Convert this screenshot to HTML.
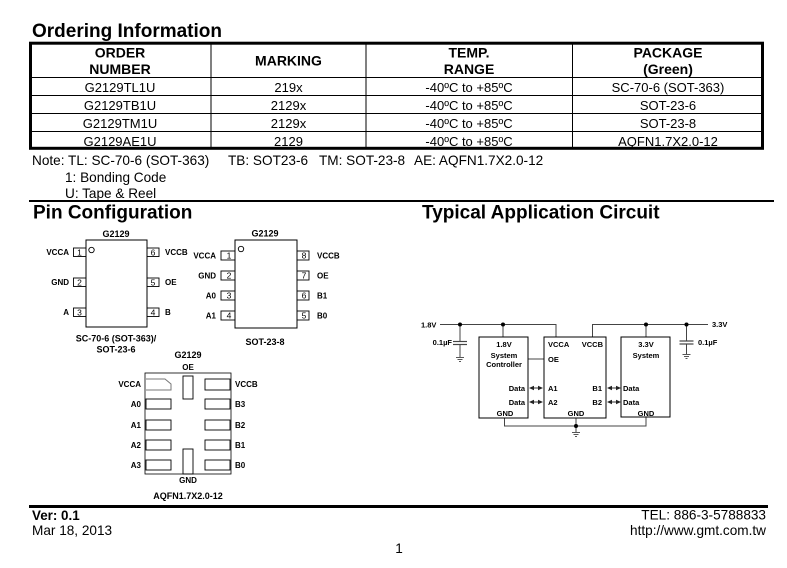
<!DOCTYPE html>
<html><head><meta charset="utf-8"><style>
html,body{margin:0;padding:0;background:#fff;}
svg{display:block;}
text{font-family:"Liberation Sans",Arial,sans-serif;fill:#000;}
.b{font-weight:bold;}
</style></head><body>
<svg width="787" height="568" viewBox="0 0 787 568" xmlns="http://www.w3.org/2000/svg">
<rect width="787" height="568" fill="#fff"/>

<!-- Ordering Information -->
<text x="32" y="37" class="b" font-size="19">Ordering Information</text>
<rect x="30.5" y="43.2" width="732" height="105.1" fill="none" stroke="#000" stroke-width="3"/>
<g stroke="#000" stroke-width="1">
<line x1="32" y1="77.5" x2="761" y2="77.5"/>
<line x1="32" y1="95.5" x2="761" y2="95.5"/>
<line x1="32" y1="113.5" x2="761" y2="113.5"/>
<line x1="32" y1="131.5" x2="761" y2="131.5"/>
<line x1="211" y1="44" x2="211" y2="147"/>
<line x1="366" y1="44" x2="366" y2="147"/>
<line x1="572.5" y1="44" x2="572.5" y2="147"/>
</g>
<g font-size="14" class="b" text-anchor="middle">
<text x="120" y="57.3" class="b">ORDER</text>
<text x="120" y="74" class="b">NUMBER</text>
<text x="288.5" y="65.7" class="b">MARKING</text>
<text x="469" y="57.3" class="b">TEMP.</text>
<text x="469" y="74" class="b">RANGE</text>
<text x="668" y="57.3" class="b">PACKAGE</text>
<text x="668" y="74" class="b">(Green)</text>
</g>
<g font-size="13" text-anchor="middle">
<text x="120" y="92">G2129TL1U</text>
<text x="120" y="110">G2129TB1U</text>
<text x="120" y="128">G2129TM1U</text>
<text x="120" y="146">G2129AE1U</text>
<text x="288.5" y="92">219x</text>
<text x="288.5" y="110">2129x</text>
<text x="288.5" y="128">2129x</text>
<text x="288.5" y="146">2129</text>
<text x="469" y="92">-40ºC to +85ºC</text>
<text x="469" y="110">-40ºC to +85ºC</text>
<text x="469" y="128">-40ºC to +85ºC</text>
<text x="469" y="146">-40ºC to +85ºC</text>
<text x="668" y="92">SC-70-6 (SOT-363)</text>
<text x="668" y="110">SOT-23-6</text>
<text x="668" y="128">SOT-23-8</text>
<text x="668" y="146">AQFN1.7X2.0-12</text>
</g>
<g font-size="13.6">
<text x="32" y="165">Note: TL: SC-70-6 (SOT-363)</text>
<text x="228" y="165">TB: SOT23-6</text>
<text x="319" y="165">TM: SOT-23-8</text>
<text x="414" y="165">AE: AQFN1.7X2.0-12</text>
<text x="65" y="182">1: Bonding Code</text>
<text x="65" y="198">U: Tape &amp; Reel</text>
</g>
<rect x="29" y="200" width="745" height="2" fill="#000"/>

<text x="33" y="218.3" class="b" font-size="19">Pin Configuration</text>
<text x="422" y="218.3" class="b" font-size="19">Typical Application Circuit</text>

<!-- SC-70-6 -->
<g font-size="8">
<text x="116" y="237" class="b" font-size="9" text-anchor="middle">G2129</text>
<rect x="86" y="240" width="61" height="87" fill="none" stroke="#000" stroke-width="1"/>
<circle cx="91.5" cy="250" r="2.7" fill="none" stroke="#000" stroke-width="0.9"/>
<g fill="none" stroke="#000" stroke-width="0.9">
<rect x="73.5" y="248" width="12.5" height="8.5"/>
<rect x="73.5" y="278" width="12.5" height="8.5"/>
<rect x="73.5" y="308" width="12.5" height="8.5"/>
<rect x="147" y="248" width="12" height="8.5"/>
<rect x="147" y="278" width="12" height="8.5"/>
<rect x="147" y="308" width="12" height="8.5"/>
</g>
<g text-anchor="middle" font-size="8.5">
<text x="79.5" y="255.5">1</text><text x="79.5" y="285.5">2</text><text x="79.5" y="315.5">3</text>
<text x="153" y="255.5">6</text><text x="153" y="285.5">5</text><text x="153" y="315.5">4</text>
</g>
<g class="b" text-anchor="end">
<text x="69" y="255" class="b">VCCA</text><text x="69" y="285" class="b">GND</text><text x="69" y="315" class="b">A</text>
</g>
<g class="b">
<text x="165" y="255" class="b">VCCB</text><text x="165" y="285" class="b">OE</text><text x="165" y="315" class="b">B</text>
</g>
<text x="116" y="341.5" class="b" font-size="9" text-anchor="middle">SC-70-6 (SOT-363)/</text>
<text x="116" y="352.5" class="b" font-size="9" text-anchor="middle">SOT-23-6</text>
</g>

<!-- SOT-23-8 -->
<g font-size="8">
<text x="265" y="236.5" class="b" font-size="9" text-anchor="middle">G2129</text>
<rect x="235" y="240" width="62" height="88" fill="none" stroke="#000" stroke-width="1"/>
<circle cx="241" cy="249" r="2.7" fill="none" stroke="#000" stroke-width="0.9"/>
<g fill="none" stroke="#000" stroke-width="0.9">
<rect x="221" y="251" width="14" height="9"/>
<rect x="221" y="271" width="14" height="9"/>
<rect x="221" y="291" width="14" height="9"/>
<rect x="221" y="311" width="14" height="9"/>
<rect x="297" y="251" width="12" height="9"/>
<rect x="297" y="271" width="12" height="9"/>
<rect x="297" y="291" width="12" height="9"/>
<rect x="297" y="311" width="12" height="9"/>
</g>
<g text-anchor="middle" font-size="8.5">
<text x="229" y="258.5">1</text><text x="229" y="278.5">2</text><text x="229" y="298.5">3</text><text x="229" y="318.5">4</text>
<text x="304" y="258.5">8</text><text x="304" y="278.5">7</text><text x="304" y="298.5">6</text><text x="304" y="318.5">5</text>
</g>
<g text-anchor="end">
<text x="216" y="258.5" class="b">VCCA</text><text x="216" y="278.5" class="b">GND</text><text x="216" y="298.5" class="b">A0</text><text x="216" y="318.5" class="b">A1</text>
</g>
<text x="317" y="258.5" class="b">VCCB</text><text x="317" y="278.5" class="b">OE</text><text x="317" y="298.5" class="b">B1</text><text x="317" y="318.5" class="b">B0</text>
<text x="265" y="345" class="b" font-size="9" text-anchor="middle">SOT-23-8</text>
</g>

<!-- AQFN -->
<g font-size="8">
<text x="188" y="358" class="b" font-size="9" text-anchor="middle">G2129</text>
<text x="188" y="370" class="b" text-anchor="middle">OE</text>
<rect x="145" y="373" width="86" height="101" fill="none" stroke="#000" stroke-width="0.8"/>
<g fill="none" stroke="#000" stroke-width="0.9">
<rect x="146" y="399" width="25" height="10"/>
<rect x="146" y="420" width="25" height="10"/>
<rect x="146" y="440" width="25" height="10"/>
<rect x="146" y="460" width="25" height="10"/>
<rect x="205" y="379" width="25" height="11"/>
<rect x="205" y="399" width="25" height="10"/>
<rect x="205" y="420" width="25" height="10"/>
<rect x="205" y="440" width="25" height="10"/>
<rect x="205" y="460" width="25" height="10"/>
<rect x="183" y="376" width="10" height="23"/>
<rect x="183" y="449" width="10" height="25"/>
</g>
<polyline points="146,379 165,379 171,384 171,390 146,390" fill="none" stroke="#777" stroke-width="1"/>
<g text-anchor="end">
<text x="141" y="387" class="b">VCCA</text><text x="141" y="407" class="b">A0</text><text x="141" y="428" class="b">A1</text><text x="141" y="448" class="b">A2</text><text x="141" y="468" class="b">A3</text>
</g>
<text x="235" y="387" class="b">VCCB</text><text x="235" y="407" class="b">B3</text><text x="235" y="428" class="b">B2</text><text x="235" y="448" class="b">B1</text><text x="235" y="468" class="b">B0</text>
<text x="188" y="483" class="b" text-anchor="middle">GND</text>
<text x="188" y="499" class="b" font-size="9" text-anchor="middle">AQFN1.7X2.0-12</text>
</g>

<!-- Application circuit -->
<g stroke="#444" stroke-width="1" fill="none">
<polyline points="440,324.5 556,324.5 556,337"/>
<polyline points="592.5,337 592.5,324.5 708,324.5"/>
<line x1="460" y1="324.5" x2="460" y2="341.5"/>
<line x1="460" y1="344.5" x2="460" y2="357"/>
<line x1="503" y1="324.5" x2="503" y2="337"/>
<line x1="646" y1="324.5" x2="646" y2="337"/>
<line x1="686.5" y1="324.5" x2="686.5" y2="341"/>
<line x1="686.5" y1="344" x2="686.5" y2="354"/>
<line x1="528" y1="359" x2="544" y2="359"/>
<polyline points="504.5,418 504.5,426 646,426 646,417"/>
<line x1="576" y1="418" x2="576" y2="432"/>
</g>
<g stroke="#444" stroke-width="1.2">
<line x1="453" y1="341.5" x2="467" y2="341.5"/>
<line x1="453" y1="344.5" x2="467" y2="344.5"/>
<line x1="679.5" y1="341" x2="693.5" y2="341"/>
<line x1="679.5" y1="344" x2="693.5" y2="344"/>
</g>
<g stroke="#444" stroke-width="0.9">
<line x1="456" y1="357.5" x2="464" y2="357.5"/>
<line x1="457.5" y1="359.5" x2="462.5" y2="359.5"/>
<line x1="459" y1="361.5" x2="461" y2="361.5"/>
<line x1="682.5" y1="354.5" x2="690.5" y2="354.5"/>
<line x1="684" y1="356.5" x2="689" y2="356.5"/>
<line x1="685.5" y1="358.5" x2="687.5" y2="358.5"/>
<line x1="572" y1="432.5" x2="580" y2="432.5"/>
<line x1="573.5" y1="434.5" x2="578.5" y2="434.5"/>
<line x1="575" y1="436.5" x2="577" y2="436.5"/>
</g>
<g fill="#000">
<circle cx="460" cy="324.5" r="2"/>
<circle cx="503" cy="324.5" r="2"/>
<circle cx="646" cy="324.5" r="2"/>
<circle cx="686.5" cy="324.5" r="2"/>
<circle cx="576" cy="426" r="2"/>
</g>
<g fill="none" stroke="#000" stroke-width="1">
<rect x="479" y="337" width="49" height="81"/>
<rect x="544" y="337" width="62" height="81"/>
<rect x="621" y="337" width="49" height="80"/>
</g>
<!-- bidirectional arrows -->
<g stroke="#333" stroke-width="1">
<line x1="530" y1="388" x2="542" y2="388"/>
<line x1="530" y1="402" x2="542" y2="402"/>
<line x1="608" y1="388" x2="620" y2="388"/>
<line x1="608" y1="402" x2="620" y2="402"/>
</g>
<g fill="#222">
<polygon points="529,388 534,385.7 534,390.3"/><polygon points="543,388 538,385.7 538,390.3"/>
<polygon points="529,402 534,399.7 534,404.3"/><polygon points="543,402 538,399.7 538,404.3"/>
<polygon points="607,388 612,385.7 612,390.3"/><polygon points="621,388 616,385.7 616,390.3"/>
<polygon points="607,402 612,399.7 612,404.3"/><polygon points="621,402 616,399.7 616,404.3"/>
</g>
<g font-size="7.5" class="b">
<text x="421" y="327.5" class="b">1.8V</text>
<text x="452" y="345" class="b" text-anchor="end">0.1µF</text>
<text x="712" y="327" class="b">3.3V</text>
<text x="698" y="345" class="b">0.1µF</text>
<g text-anchor="middle">
<text x="504" y="347" class="b">1.8V</text>
<text x="504" y="358" class="b">System</text>
<text x="504" y="367" class="b">Controller</text>
<text x="505" y="416" class="b">GND</text>
<text x="576" y="416" class="b">GND</text>
<text x="646" y="347" class="b">3.3V</text>
<text x="646" y="358" class="b">System</text>
<text x="646" y="416" class="b">GND</text>
</g>
<text x="525" y="391" class="b" text-anchor="end">Data</text>
<text x="525" y="405" class="b" text-anchor="end">Data</text>
<text x="548" y="347" class="b">VCCA</text>
<text x="603" y="347" class="b" text-anchor="end">VCCB</text>
<text x="548" y="362" class="b">OE</text>
<text x="548" y="391" class="b">A1</text>
<text x="548" y="405" class="b">A2</text>
<text x="602" y="391" class="b" text-anchor="end">B1</text>
<text x="602" y="405" class="b" text-anchor="end">B2</text>
<text x="623" y="391" class="b">Data</text>
<text x="623" y="405" class="b">Data</text>
</g>

<!-- Footer -->
<rect x="29" y="505" width="739" height="3" fill="#000"/>
<text x="32" y="520" class="b" font-size="13.4">Ver: 0.1</text>
<text x="32" y="535" font-size="13.6">Mar 18, 2013</text>
<text x="766" y="519.5" font-size="13.6" text-anchor="end">TEL: 886-3-5788833</text>
<text x="766" y="535" font-size="13.6" text-anchor="end">http://www.gmt.com.tw</text>
<text x="399" y="553" font-size="13.6" text-anchor="middle">1</text>
</svg>
</body></html>
